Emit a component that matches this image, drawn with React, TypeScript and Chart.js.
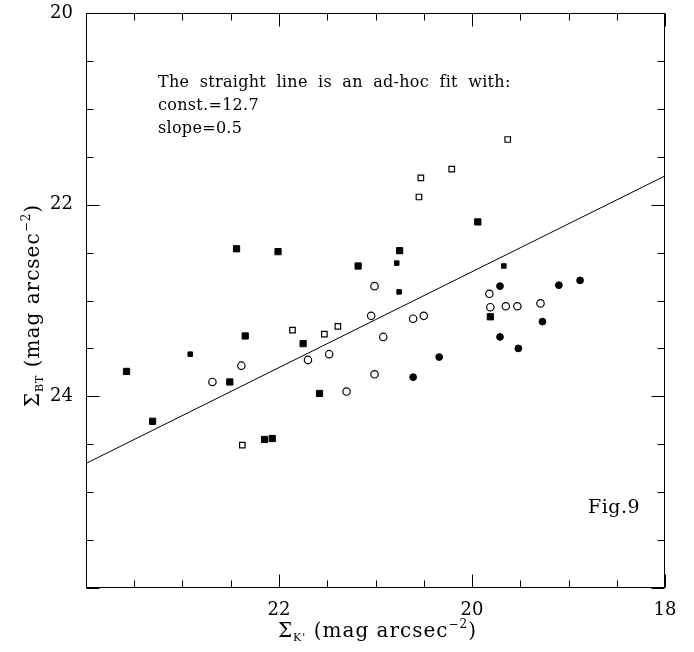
import React, { useEffect, useRef } from "react";
import { Chart, registerables } from "chart.js";

Chart.register(...registerables);

// ---- data ----
const filledSquareX = [22.44, 22.01, 22.35, 23.58, 22.51, 23.31, 22.15, 22.07, 21.75, 21.58, 21.18, 20.75, 19.94, 19.81];
const filledSquareY = [22.46, 22.49, 23.37, 23.74, 23.85, 24.26, 24.45, 24.44, 23.45, 23.97, 22.64, 22.48, 22.18, 23.17];

const smallSquareX = [22.92, 20.78, 20.755, 19.67];
const smallSquareY = [23.56, 22.61, 22.91, 22.64];

const openSquareX = [19.63, 20.21, 20.53, 20.55, 21.86, 21.53, 21.39, 22.38];
const openSquareY = [21.32, 21.63, 21.72, 21.92, 23.31, 23.35, 23.27, 24.51];

const openCircleX = [22.39, 22.69, 21.7, 21.48, 21.3, 21.01, 20.92, 21.045, 21.01, 20.61, 20.5, 19.82, 19.81, 19.65, 19.53, 19.29];
const openCircleY = [23.68, 23.85, 23.62, 23.56, 23.95, 23.77, 23.38, 23.16, 22.85, 23.19, 23.16, 22.93, 23.07, 23.06, 23.06, 23.03];

const filledCircleX = [19.71, 19.1, 18.88, 19.27, 19.71, 19.52, 20.34, 20.61];
const filledCircleY = [22.85, 22.84, 22.79, 23.22, 23.38, 23.5, 23.59, 23.8];

// ad-hoc fit line end points (const = 12.7, slope = 0.5)
const fitX = [24, 18];
const fitY = [24.7, 21.7];

const xTickLabels = [22, 20, 18];
const yTickLabels = [20, 22, 24];

const noteLines = ["The straight line is an ad-hoc fit with:", "const.=12.7", "slope=0.5"];
const figLabel = "Fig.9";

const FONT = "'DejaVu Serif', serif";

const toPoints = (xs: number[], ys: number[]) => xs.map((x, i) => ({ x, y: ys[i] }));

type Part = { text: string; size: number; dy: number };

function drawRich(ctx: CanvasRenderingContext2D, parts: Part[], cx: number, y: number) {
  let total = 0;
  const widths = parts.map((p) => {
    ctx.font = `${p.size}px ${FONT}`;
    const w = ctx.measureText(p.text).width;
    total += w;
    return w;
  });
  let x = cx - total / 2;
  parts.forEach((p, i) => {
    ctx.font = `${p.size}px ${FONT}`;
    ctx.fillText(p.text, x, y + p.dy);
    x += widths[i];
  });
}

const framePlugin = {
  id: "frame",
  afterDraw(chart: any) {
    const { ctx, chartArea: a, scales } = chart;
    const xs = scales.x;
    const ys = scales.y;
    const L = Math.round(a.left) + 0.5;
    const R = Math.round(a.right) - 0.5;
    const T = Math.round(a.top) + 0.5;
    const B = Math.round(a.bottom) - 0.5;
    ctx.save();
    ctx.strokeStyle = "#000";
    ctx.lineWidth = 1;
    ctx.strokeRect(L, T, R - L, B - T);
    ctx.beginPath();
    xs.ticks.forEach((t: any) => {
      const px = Math.round(xs.getPixelForValue(t.value)) + 0.5;
      const len = Number.isInteger(t.value / 2) ? 13 : 7;
      ctx.moveTo(px, B);
      ctx.lineTo(px, B - len);
      ctx.moveTo(px, T);
      ctx.lineTo(px, T + len);
    });
    ys.ticks.forEach((t: any) => {
      const py = Math.round(ys.getPixelForValue(t.value)) + 0.5;
      const len = Number.isInteger(t.value / 2) ? 13 : 7;
      ctx.moveTo(L, py);
      ctx.lineTo(L + len, py);
      ctx.moveTo(R, py);
      ctx.lineTo(R - len, py);
    });
    ctx.stroke();

    ctx.fillStyle = "#000";
    ctx.textBaseline = "alphabetic";
    ctx.textAlign = "left";
    // annotation
    ctx.font = `16px ${FONT}`;
    (ctx as any).letterSpacing = "0.3px";
    (ctx as any).wordSpacing = "5px";
    const nx = a.left + 72;
    const baselines = [a.top + 73.5, a.top + 97, a.top + 119.5];
    noteLines.forEach((s, i) => ctx.fillText(s, nx, baselines[i]));
    (ctx as any).wordSpacing = "0px";
    (ctx as any).letterSpacing = "0.5px";
    ctx.font = `19px ${FONT}`;
    ctx.fillText(figLabel, a.right - 77, a.top + 500);

    // axis titles
    const cx = (a.left + a.right) / 2 + 2;
    (ctx as any).letterSpacing = "1px";
    (ctx as any).wordSpacing = "6px";
    drawRich(
      ctx,
      [
        { text: "Σ", size: 20, dy: 0 },
        { text: "K'", size: 11, dy: 4 },
        { text: " (mag arcsec", size: 20, dy: 0 },
        { text: "−2", size: 12, dy: -9 },
        { text: ")", size: 20, dy: 0 },
      ],
      cx,
      636.5
    );
    ctx.save();
    ctx.translate(39, (a.top + a.bottom) / 2 + 5);
    ctx.rotate(-Math.PI / 2);
    drawRich(
      ctx,
      [
        { text: "Σ", size: 20, dy: 0 },
        { text: "BT", size: 11, dy: 4 },
        { text: " (mag arcsec", size: 20, dy: 0 },
        { text: "−2", size: 12, dy: -9 },
        { text: ")", size: 20, dy: 0 },
      ],
      0,
      0
    );
    ctx.restore();
    (ctx as any).wordSpacing = "0px";
    (ctx as any).letterSpacing = "0px";
    ctx.restore();
  },
};

export default function App() {
  const ref = useRef<HTMLCanvasElement | null>(null);

  useEffect(() => {
    document.body.style.margin = "0";
    document.body.style.overflow = "hidden";
    const canvas = ref.current;
    if (!canvas) return;
    const chart = new Chart(canvas, {
      type: "scatter",
      data: {
        datasets: [
          {
            label: "fit",
            data: toPoints(fitX, fitY),
            showLine: true,
            pointRadius: 0,
            borderColor: "#000",
            borderWidth: 1,
            backgroundColor: "#000",
          },
          {
            label: "filled squares",
            data: toPoints(filledSquareX, filledSquareY),
            pointStyle: "rect",
            pointRadius: 4.4,
            backgroundColor: "#000",
            borderColor: "#000",
            borderWidth: 1,
          },
          {
            label: "small filled squares",
            data: toPoints(smallSquareX, smallSquareY),
            pointStyle: "rect",
            pointRadius: 3.2,
            backgroundColor: "#000",
            borderColor: "#000",
            borderWidth: 1,
          },
          {
            label: "open squares",
            data: toPoints(openSquareX, openSquareY),
            pointStyle: "rect",
            pointRadius: 3.9,
            backgroundColor: "#fff",
            borderColor: "#000",
            borderWidth: 1.2,
          },
          {
            label: "open circles",
            data: toPoints(openCircleX, openCircleY),
            pointStyle: "circle",
            pointRadius: 3.7,
            backgroundColor: "#fff",
            borderColor: "#000",
            borderWidth: 1.2,
          },
          {
            label: "filled circles",
            data: toPoints(filledCircleX, filledCircleY),
            pointStyle: "circle",
            pointRadius: 3.4,
            backgroundColor: "#000",
            borderColor: "#000",
            borderWidth: 1,
          },
        ],
      },
      options: {
        animation: false,
        responsive: false,
        devicePixelRatio: 1,
        layout: { padding: { top: 13, right: 29, left: 0, bottom: 0 } },
        plugins: { legend: { display: false }, tooltip: { enabled: false } },
        scales: {
          x: {
            type: "linear",
            min: 18,
            max: 24,
            reverse: true,
            grid: { display: false, drawTicks: false },
            border: { display: false },
            ticks: {
              stepSize: 0.5,
              autoSkip: false,
              maxRotation: 0,
              padding: 12,
              color: "#000",
              font: { family: FONT, size: 18 },
              callback: (v: any) => (xTickLabels.includes(Number(v)) ? String(v) : ""),
            },
            afterFit: (s: any) => {
              s.height = 64;
              s.paddingLeft = 0;
              s.paddingRight = 0;
            },
          },
          y: {
            type: "linear",
            min: 20,
            max: 26,
            reverse: true,
            grid: { display: false, drawTicks: false },
            border: { display: false },
            ticks: {
              stepSize: 0.5,
              autoSkip: false,
              padding: 13,
              color: "#000",
              font: { family: FONT, size: 18 },
              callback: (v: any) => (yTickLabels.includes(Number(v)) ? String(v) : ""),
            },
            afterFit: (s: any) => {
              s.width = 86;
              s.paddingTop = 0;
              s.paddingBottom = 0;
            },
          },
        },
      },
      plugins: [framePlugin],
    });
    return () => chart.destroy();
  }, []);

  return (
    <canvas
      ref={ref}
      width={694}
      height={652}
      style={{ display: "block", width: "694px", height: "652px" }}
    />
  );
}
